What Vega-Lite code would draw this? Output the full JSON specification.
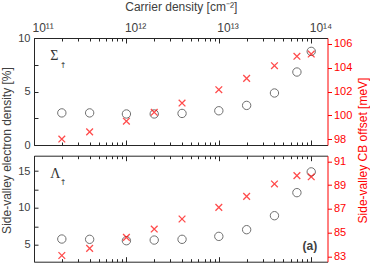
{
  "$schema": "https://vega.github.io/schema/vega-lite/v6.json",
  "padding": {"left": 0, "top": 0, "right": 0, "bottom": 0},
  "background": "white",
  "config": {
    "view": {"stroke": null},
    "font": "Liberation Sans",
    "axis": {
      "labelFont": "Liberation Sans",
      "titleFont": "Liberation Sans",
      "labelFontSize": 11,
      "titleFontSize": 12,
      "titleFontWeight": "normal",
      "labelColor": "#404040",
      "titleColor": "#404040",
      "domainColor": "#262626",
      "tickColor": "#262626",
      "grid": false,
      "labelFlush": false,
      "labelOverlap": false
    }
  },
  "datasets": {
    "pts": [
      {"n": 2e11, "sigma_pct": 3.0, "sigma_off": 98.0, "lambda_pct": 5.78, "lambda_off": 83.1},
      {"n": 4e11, "sigma_pct": 3.0, "sigma_off": 98.6, "lambda_pct": 5.74, "lambda_off": 83.7},
      {"n": 1e12, "sigma_pct": 2.9, "sigma_off": 99.5, "lambda_pct": 5.55, "lambda_off": 84.62},
      {"n": 2e12, "sigma_pct": 2.9, "sigma_off": 100.25, "lambda_pct": 5.64, "lambda_off": 85.32},
      {"n": 4e12, "sigma_pct": 2.95, "sigma_off": 101.03, "lambda_pct": 5.74, "lambda_off": 86.16},
      {"n": 1e13, "sigma_pct": 3.2, "sigma_off": 102.15, "lambda_pct": 6.14, "lambda_off": 87.14},
      {"n": 2e13, "sigma_pct": 3.7, "sigma_off": 103.1, "lambda_pct": 7.05, "lambda_off": 88.06},
      {"n": 4e13, "sigma_pct": 4.86, "sigma_off": 104.17, "lambda_pct": 8.95, "lambda_off": 89.1},
      {"n": 7e13, "sigma_pct": 6.82, "sigma_off": 104.96, "lambda_pct": 12.08, "lambda_off": 89.8},
      {"n": 1e14, "sigma_pct": 8.75, "sigma_off": 105.15, "lambda_pct": 14.9, "lambda_off": 89.7}
    ],
    "sigmaLabel": [{"n": 1.5e11, "v": 8.3, "t": "Σ"}],
    "sigmaArrow": [{"n": 1.9e11, "v": 7.4, "t": "↑"}],
    "lambdaLabel": [{"n": 1.5e11, "v": 14.6, "t": "Λ"}],
    "lambdaArrow": [{"n": 1.9e11, "v": 13.4, "t": "↑"}],
    "panelTag": [{"n": 1.16e14, "v": 4.86, "t": "(a)"}]
  },
  "vconcat": [
    {
      "width": 293.5,
      "height": 107,
      "resolve": {"scale": {"x": "independent", "y": "independent"}},
      "layer": [
        {
          "data": {"name": "pts"},
          "mark": {"type": "point", "shape": "circle", "filled": false, "size": 70, "strokeWidth": 1, "color": "#333333"},
          "encoding": {
            "x": {"field": "n", "type": "quantitative",
              "scale": {"type": "log", "domain": [1e11, 1.5e14], "nice": false},
              "axis": {"orient": "top", "title": "Carrier density [cm⁻²]",
                "values": [1e11,2e11,3e11,4e11,5e11,6e11,7e11,8e11,9e11,1e12,2e12,3e12,4e12,5e12,6e12,7e12,8e12,9e12,1e13,2e13,3e13,4e13,5e13,6e13,7e13,8e13,9e13,1e14],
                "labelExpr": "datum.value == 1e11 ? '10¹¹' : datum.value == 1e12 ? '10¹²' : datum.value == 1e13 ? '10¹³' : datum.value == 1e14 ? '10¹⁴' : ''",
                "labelFontSize": 12, "labelAlign": "left", "labelOffset": -2,
                "tickSize": {"condition": {"test": "indexof([1e11,1e12,1e13,1e14], datum.value) >= 0", "value": -5}, "value": -3},
                "labelPadding": 9, "titlePadding": 6}},
            "y": {"field": "sigma_pct", "type": "quantitative",
              "scale": {"domain": [0, 10], "nice": false, "zero": false},
              "axis": {"orient": "left", "values": [0, 2.5, 5, 7.5, 10],
                "labelExpr": "datum.value % 5 == 0 ? datum.label : ''",
                "tickSize": -4, "labelPadding": 8,
                "title": "Side-valley electron density [%]", "titleY": 112, "titlePadding": 4}}
          }
        },
        {
          "data": {"name": "pts"},
          "mark": {"type": "point", "shape": "M-1,-1L1,1M1,-1L-1,1", "filled": false, "size": 45, "strokeWidth": 1.3, "color": "#ff0000"},
          "encoding": {
            "x": {"field": "n", "type": "quantitative",
              "scale": {"type": "log", "domain": [1e11, 1.5e14], "nice": false},
              "axis": {"orient": "bottom", "title": null, "labels": false,
                "values": [1e11,2e11,3e11,4e11,5e11,6e11,7e11,8e11,9e11,1e12,2e12,3e12,4e12,5e12,6e12,7e12,8e12,9e12,1e13,2e13,3e13,4e13,5e13,6e13,7e13,8e13,9e13,1e14],
                "tickSize": {"condition": {"test": "indexof([1e11,1e12,1e13,1e14], datum.value) >= 0", "value": -5}, "value": -3}}},
            "y": {"field": "sigma_off", "type": "quantitative",
              "scale": {"domain": [97.5, 106.5], "nice": false, "zero": false},
              "axis": {"orient": "right", "values": [98, 100, 102, 104, 106],
                "domainColor": "#ff0000", "tickColor": "#ff0000", "labelColor": "#ff0000", "titleColor": "#ff0000",
                "tickSize": 4, "labelPadding": 2,
                "title": "Side-valley CB offset [meV]", "titleY": 112, "titleAngle": 270, "titleBaseline": "top", "titlePadding": 6}}
          }
        },
        {
          "data": {"name": "sigmaLabel"},
          "mark": {"type": "text", "align": "left", "baseline": "middle", "font": "Liberation Serif", "fontSize": 14, "color": "#333333"},
          "encoding": {
            "x": {"field": "n", "type": "quantitative", "scale": {"type": "log", "domain": [1e11, 1.5e14], "nice": false}, "axis": null},
            "y": {"field": "v", "type": "quantitative", "scale": {"domain": [0, 10], "nice": false, "zero": false}, "axis": null},
            "text": {"field": "t"}
          }
        },
        {
          "data": {"name": "sigmaArrow"},
          "mark": {"type": "text", "align": "left", "baseline": "middle", "font": "DejaVu Sans", "fontSize": 8, "color": "#333333"},
          "encoding": {
            "x": {"field": "n", "type": "quantitative", "scale": {"type": "log", "domain": [1e11, 1.5e14], "nice": false}, "axis": null},
            "y": {"field": "v", "type": "quantitative", "scale": {"domain": [0, 10], "nice": false, "zero": false}, "axis": null},
            "text": {"field": "t"}
          }
        }
      ]
    },
    {
      "width": 293.5,
      "height": 106,
      "resolve": {"scale": {"x": "independent", "y": "independent"}},
      "layer": [
        {
          "data": {"name": "pts"},
          "mark": {"type": "point", "shape": "circle", "filled": false, "size": 70, "strokeWidth": 1, "color": "#333333"},
          "encoding": {
            "x": {"field": "n", "type": "quantitative",
              "scale": {"type": "log", "domain": [1e11, 1.5e14], "nice": false},
              "axis": {"orient": "top", "title": null, "labels": false,
                "values": [1e11,2e11,3e11,4e11,5e11,6e11,7e11,8e11,9e11,1e12,2e12,3e12,4e12,5e12,6e12,7e12,8e12,9e12,1e13,2e13,3e13,4e13,5e13,6e13,7e13,8e13,9e13,1e14],
                "tickSize": {"condition": {"test": "indexof([1e11,1e12,1e13,1e14], datum.value) >= 0", "value": -5}, "value": -3}}},
            "y": {"field": "lambda_pct", "type": "quantitative",
              "scale": {"domain": [2.7, 17.1], "nice": false, "zero": false},
              "axis": {"orient": "left", "values": [5, 7.5, 10, 12.5, 15],
                "labelExpr": "datum.value % 5 == 0 ? datum.label : ''",
                "tickSize": -4, "labelPadding": 8, "title": null}}
          }
        },
        {
          "data": {"name": "pts"},
          "mark": {"type": "point", "shape": "M-1,-1L1,1M1,-1L-1,1", "filled": false, "size": 45, "strokeWidth": 1.3, "color": "#ff0000"},
          "encoding": {
            "x": {"field": "n", "type": "quantitative",
              "scale": {"type": "log", "domain": [1e11, 1.5e14], "nice": false},
              "axis": {"orient": "bottom", "title": null, "labels": false,
                "values": [1e11,2e11,3e11,4e11,5e11,6e11,7e11,8e11,9e11,1e12,2e12,3e12,4e12,5e12,6e12,7e12,8e12,9e12,1e13,2e13,3e13,4e13,5e13,6e13,7e13,8e13,9e13,1e14],
                "tickSize": {"condition": {"test": "indexof([1e11,1e12,1e13,1e14], datum.value) >= 0", "value": -5}, "value": -3}}},
            "y": {"field": "lambda_off", "type": "quantitative",
              "scale": {"domain": [82.58, 91.47], "nice": false, "zero": false},
              "axis": {"orient": "right", "values": [83, 85, 87, 89, 91],
                "domainColor": "#ff0000", "tickColor": "#ff0000", "labelColor": "#ff0000",
                "tickSize": 4, "labelPadding": 2, "title": null}}
          }
        },
        {
          "data": {"name": "lambdaLabel"},
          "mark": {"type": "text", "align": "left", "baseline": "middle", "font": "Liberation Serif", "fontSize": 14, "color": "#333333"},
          "encoding": {
            "x": {"field": "n", "type": "quantitative", "scale": {"type": "log", "domain": [1e11, 1.5e14], "nice": false}, "axis": null},
            "y": {"field": "v", "type": "quantitative", "scale": {"domain": [2.7, 17.1], "nice": false, "zero": false}, "axis": null},
            "text": {"field": "t"}
          }
        },
        {
          "data": {"name": "lambdaArrow"},
          "mark": {"type": "text", "align": "left", "baseline": "middle", "font": "DejaVu Sans", "fontSize": 8, "color": "#333333"},
          "encoding": {
            "x": {"field": "n", "type": "quantitative", "scale": {"type": "log", "domain": [1e11, 1.5e14], "nice": false}, "axis": null},
            "y": {"field": "v", "type": "quantitative", "scale": {"domain": [2.7, 17.1], "nice": false, "zero": false}, "axis": null},
            "text": {"field": "t"}
          }
        },
        {
          "data": {"name": "panelTag"},
          "mark": {"type": "text", "align": "right", "baseline": "middle", "font": "Liberation Sans", "fontSize": 12, "fontWeight": "bold", "color": "#404040"},
          "encoding": {
            "x": {"field": "n", "type": "quantitative", "scale": {"type": "log", "domain": [1e11, 1.5e14], "nice": false}, "axis": null},
            "y": {"field": "v", "type": "quantitative", "scale": {"domain": [2.7, 17.1], "nice": false, "zero": false}, "axis": null},
            "text": {"field": "t"}
          }
        }
      ]
    }
  ],
  "spacing": 10.7,
  "bounds": "flush"
}
